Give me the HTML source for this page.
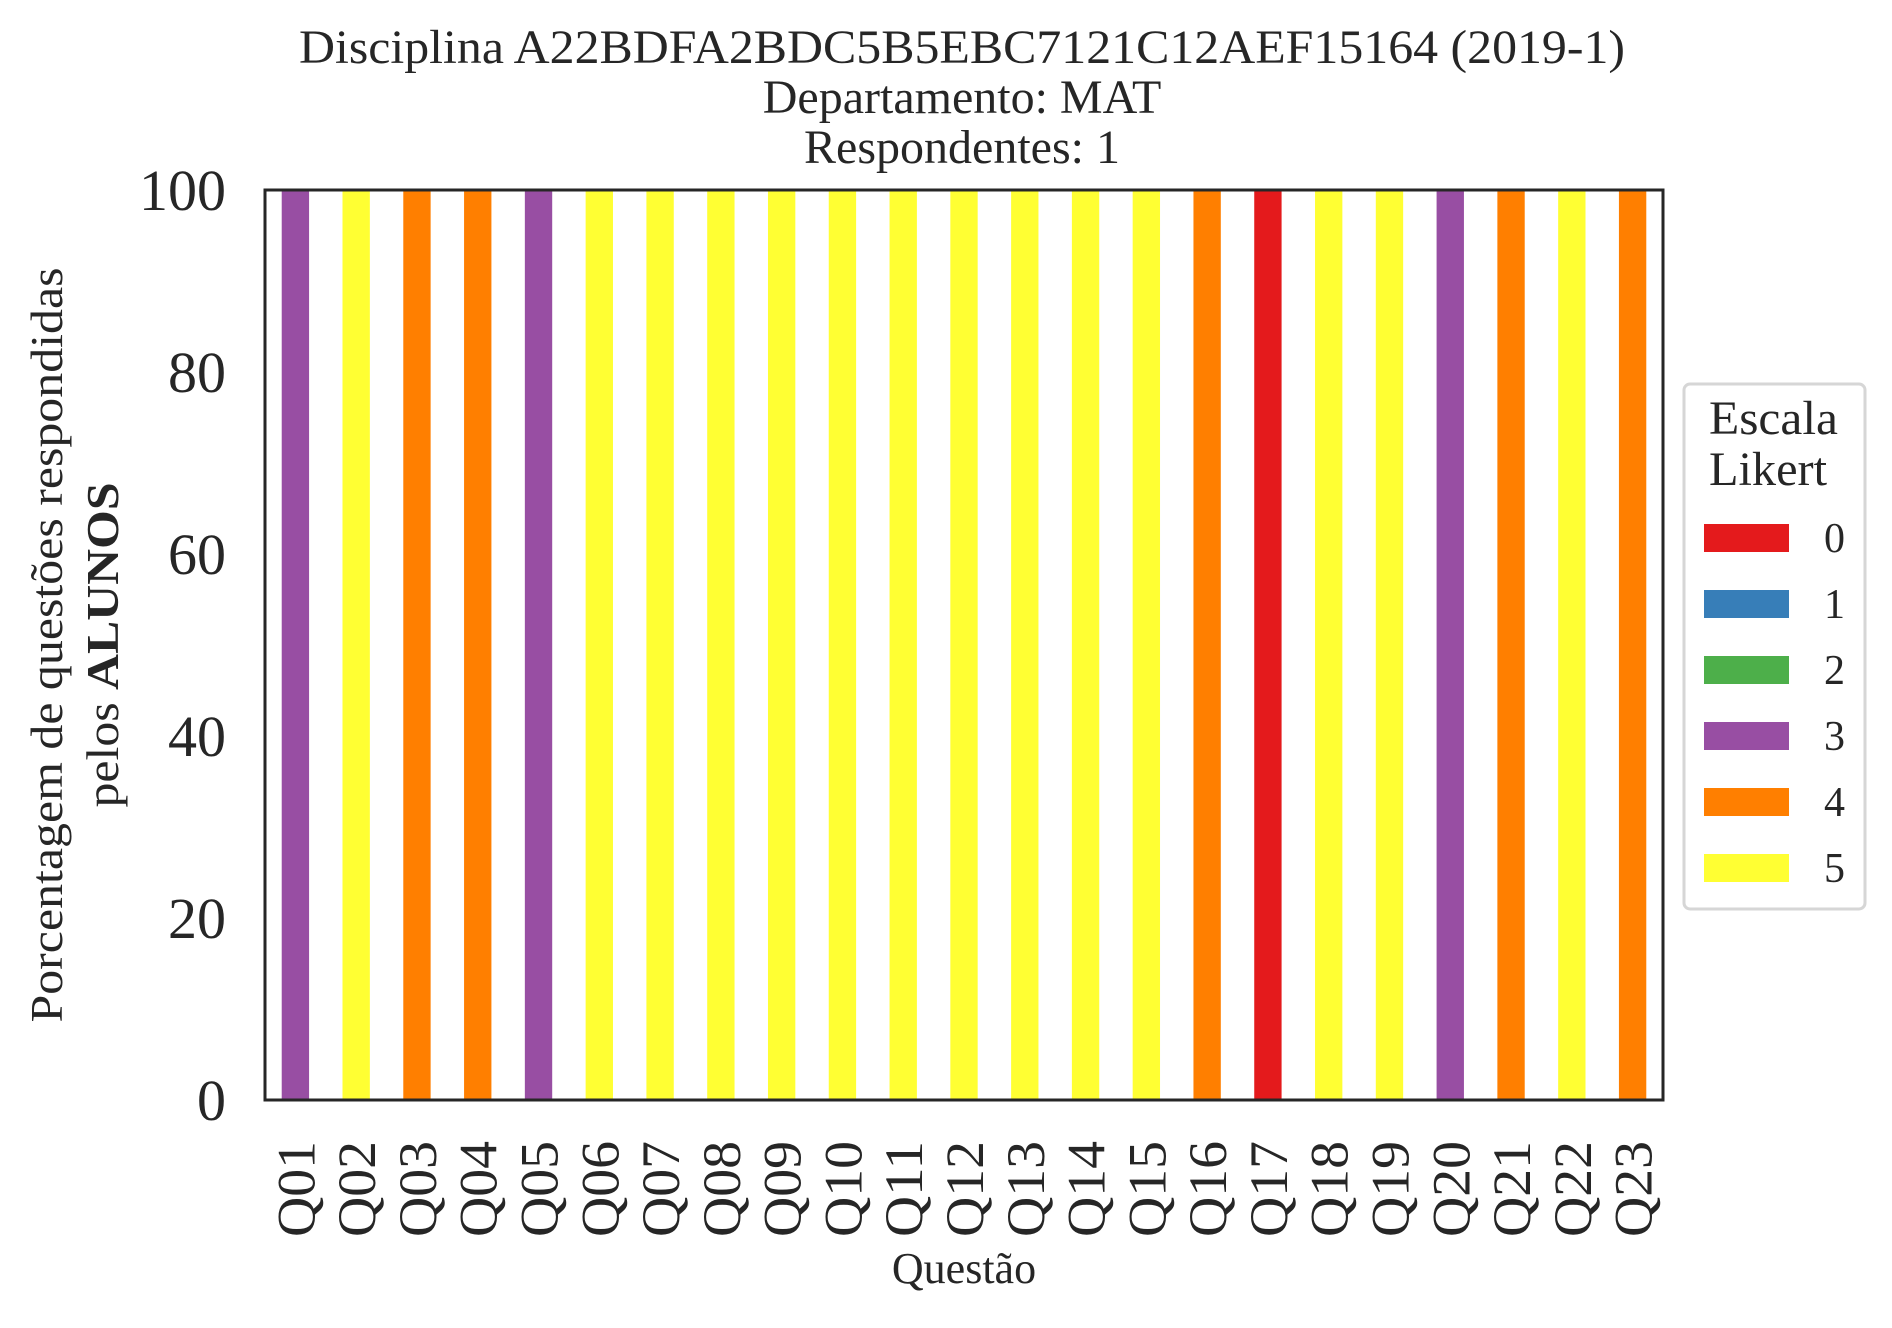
<!DOCTYPE html>
<html><head><meta charset="utf-8"><style>
body{margin:0;background:#fff}
text{font-family:"Liberation Serif",serif;fill:#262626}
</style></head><body>
<svg id="chart" width="1892" height="1323" viewBox="0 0 1892 1323" xmlns="http://www.w3.org/2000/svg">
<g>
<text x="962" y="63" font-size="48" text-anchor="middle" textLength="1326" lengthAdjust="spacingAndGlyphs">Disciplina A22BDFA2BDC5B5EBC7121C12AEF15164 (2019-1)</text>
<text x="962" y="113" font-size="48" text-anchor="middle">Departamento: MAT</text>
<text x="962" y="163" font-size="48" text-anchor="middle">Respondentes: 1</text>
</g>
<g id="bars"></g>
<g id="yticks"></g>
<g id="xticks"></g>
<rect x="265" y="190" width="1398" height="910" fill="none" stroke="#262626" stroke-width="3"/>
<text x="964" y="1283" font-size="44" text-anchor="middle">Questão</text>
<g transform="translate(62,645) rotate(-90)">
<text x="0" y="0" font-size="46" text-anchor="middle" textLength="755" lengthAdjust="spacingAndGlyphs">Porcentagem de questões respondidas</text>
<text x="0" y="56" font-size="46" text-anchor="middle" textLength="325" lengthAdjust="spacingAndGlyphs">pelos <tspan font-weight="bold">ALUNOS</tspan></text>
</g>
<g>
<rect x="1684" y="384" width="181" height="525" rx="6" fill="#fff" stroke="#d6d6d6" stroke-width="3"/>
<text x="1709" y="434" font-size="48" textLength="129" lengthAdjust="spacingAndGlyphs">Escala</text>
<text x="1709" y="485" font-size="48" textLength="118" lengthAdjust="spacingAndGlyphs">Likert</text>
<g id="legend-items"></g>
</g>
</svg>
<script>
const categories=["Q01","Q02","Q03","Q04","Q05","Q06","Q07","Q08","Q09","Q10","Q11","Q12","Q13","Q14","Q15","Q16","Q17","Q18","Q19","Q20","Q21","Q22","Q23"];
const answers=[3,5,4,4,3,5,5,5,5,5,5,5,5,5,5,4,0,5,5,3,4,5,4];
const percent=[100,100,100,100,100,100,100,100,100,100,100,100,100,100,100,100,100,100,100,100,100,100,100];
const levels=["0","1","2","3","4","5"];
const yTicks=[0,20,40,60,80,100];
const colors=["#e41a1c","#377eb8","#4daf4a","#984ea3","#ff7f00","#ffff33"];
const NS="http://www.w3.org/2000/svg";
const L=265,R=1663,T=190,B=1100;
const step=(R-L)/categories.length;
const x=i=>L+step*(i+0.5);
const y=v=>B-(v/100)*(B-T);
const bw=step*0.45;
const bars=document.getElementById('bars');
categories.forEach((c,i)=>{
 const r=document.createElementNS(NS,'rect');
 
 
 r.setAttribute('x',x(i)-bw/2);r.setAttribute('y',y(percent[i]));
 r.setAttribute('width',bw);r.setAttribute('height',y(0)-y(percent[i]));
 r.setAttribute('fill',colors[answers[i]]);
 bars.appendChild(r);
 const t=document.createElementNS(NS,'text');
 
 
 t.setAttribute('font-size','54');t.setAttribute('text-anchor','end');
 t.setAttribute('textLength','96');t.setAttribute('lengthAdjust','spacingAndGlyphs');
 t.setAttribute('transform',`translate(${x(i)+19},1141) rotate(-90)`);
 t.textContent=c;document.getElementById('xticks').appendChild(t);
});
yTicks.forEach(v=>{
 const t=document.createElementNS(NS,'text');
 
 
 t.setAttribute('font-size','58');t.setAttribute('text-anchor','end');
 t.setAttribute('x',226);t.setAttribute('y',y(v)+20);
 t.textContent=v;document.getElementById('yticks').appendChild(t);
});
const li=document.getElementById('legend-items');
levels.forEach((l,i)=>{
 const cy=538+i*66;
 const r=document.createElementNS(NS,'rect');
 
 
 r.setAttribute('x',1704);r.setAttribute('y',cy-14);r.setAttribute('width',85);r.setAttribute('height',28);
 r.setAttribute('fill',colors[i]);li.appendChild(r);
 const t=document.createElementNS(NS,'text');
 
 
 t.setAttribute('font-size','42');t.setAttribute('x',1824);t.setAttribute('y',cy+14);
 t.textContent=l;li.appendChild(t);
});
</script>
</body></html>
